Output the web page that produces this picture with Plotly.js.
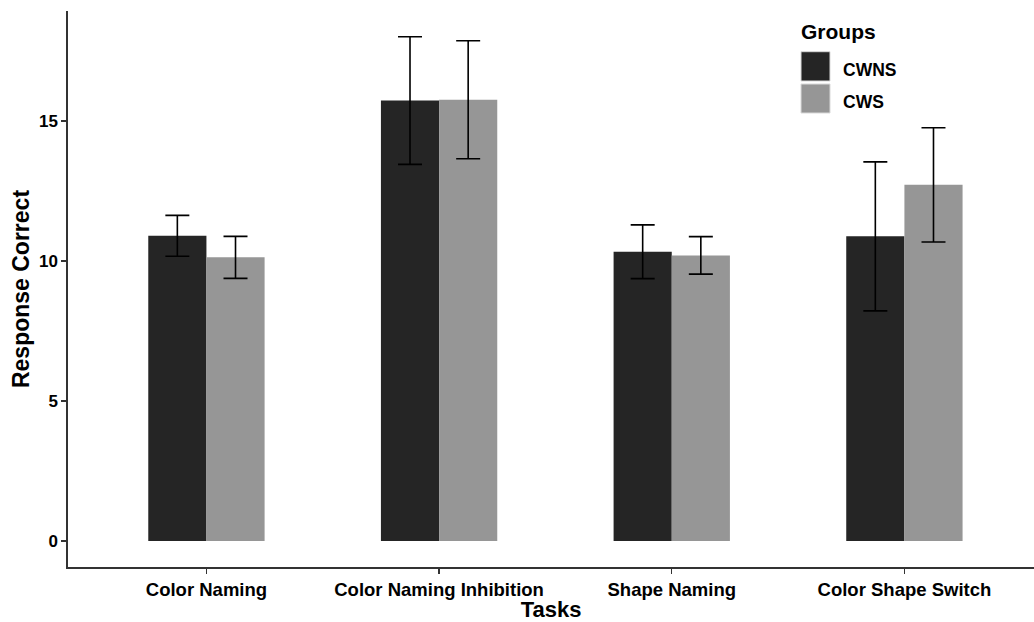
<!DOCTYPE html>
<html>
<head>
<meta charset="utf-8">
<script src="https://cdn.plot.ly/plotly-3.0.1.min.js"></script>
<style>
  html, body { margin: 0; padding: 0; background: #fff; }
  #chart { width: 1034px; height: 622px; }
</style>
</head>
<body>
<div id="chart"></div>
<script>
// Mean correct responses per task, with standard-error half widths
const tasks = ["Color Naming", "Color Naming Inhibition", "Shape Naming", "Color Shape Switch"];
const groups = ["CWNS", "CWS"];
const cwnsMean = [10.90, 15.73, 10.33, 10.88];
const cwnsErr  = [0.73, 2.28, 0.96, 2.66];
const cwsMean  = [10.13, 15.76, 10.20, 12.72];
const cwsErr   = [0.75, 2.11, 0.67, 2.04];
const yTicks = [0, 5, 10, 15];

const groupColors = ["#252525", "#969696"];
const FONT = "Liberation Sans, Arial, Helvetica, sans-serif";

// Plot area in pixels (used to place the hand-drawn legend keys)
const W = 1034, H = 622;
const M = { l: 68, r: 0, t: 11, b: 55 };
const px = x => (x - M.l) / (W - M.l - M.r);
const py = y => (H - M.b - y) / (H - M.t - M.b);

function barTrace(name, means, errs, color) {
  return {
    type: "bar",
    name: name,
    x: tasks,
    y: means,
    marker: { color: color, line: { width: 0 } },
    error_y: {
      type: "data",
      array: errs,
      visible: true,
      color: "#000000",
      thickness: 1.6,
      width: 12
    },
    showlegend: false,
    hoverinfo: "x+y+name"
  };
}

const data = [
  barTrace(groups[0], cwnsMean, cwnsErr, groupColors[0]),
  barTrace(groups[1], cwsMean, cwsErr, groupColors[1])
];

// Legend: title, two square keys and their labels
const keyBoxes = [[51.7, 81], [84, 113]];
const shapes = keyBoxes.map((b, i) => ({
  type: "rect",
  xref: "paper", yref: "paper",
  x0: px(801), x1: px(830),
  y0: py(b[1]), y1: py(b[0]),
  fillcolor: groupColors[i],
  line: { color: "#d9d9d9", width: 1 }
}));

const annotations = [
  {
    xref: "paper", yref: "paper",
    x: px(799), y: py(32),
    xanchor: "left", yanchor: "middle",
    text: "Groups", showarrow: false,
    font: { family: FONT, size: 21, weight: "bold", color: "#000" }
  }
].concat(groups.map((g, i) => ({
  xref: "paper", yref: "paper",
  x: px(841), y: py([69.5, 101.5][i]),
  xanchor: "left", yanchor: "middle",
  text: g, showarrow: false,
  font: { family: FONT, size: 17.5, weight: "bold", color: "#000" }
})));

const layout = {
  width: W, height: H,
  margin: M,
  paper_bgcolor: "#ffffff",
  plot_bgcolor: "#ffffff",
  barmode: "group",
  bargap: 0.5,
  bargroupgap: 0,
  showlegend: false,
  font: { family: FONT, color: "#000" },
  xaxis: {
    type: "category",
    range: [-0.595, 3.557],
    showgrid: false,
    zeroline: false,
    showline: true,
    linecolor: "#333333",
    linewidth: 1.6,
    ticks: "outside",
    ticklen: 5,
    tickwidth: 1.2,
    tickcolor: "#333333",
    tickfont: { family: FONT, size: 18.5, weight: "bold", color: "#000" },
    automargin: false,
    title: {
      text: "Tasks",
      standoff: 3,
      font: { family: FONT, size: 22, weight: "bold", color: "#000" }
    }
  },
  yaxis: {
    range: [-0.93, 18.93],
    tickvals: yTicks,
    ticktext: yTicks.map(String),
    showgrid: false,
    zeroline: false,
    showline: true,
    linecolor: "#333333",
    linewidth: 1.6,
    ticks: "outside",
    ticklen: 5,
    tickwidth: 1.2,
    tickcolor: "#333333",
    tickfont: { family: FONT, size: 17, weight: "bold", color: "#000" },
    automargin: false,
    title: {
      text: "Response Correct",
      standoff: 3,
      font: { family: FONT, size: 23, weight: "bold", color: "#000" }
    }
  },
  shapes: shapes,
  annotations: annotations
};

Plotly.newPlot("chart", data, layout, { displayModeBar: false, staticPlot: true });
</script>
</body>
</html>
